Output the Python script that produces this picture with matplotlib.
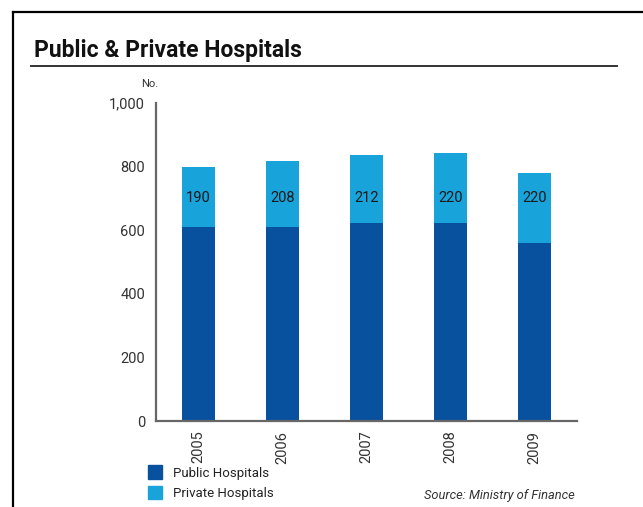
import matplotlib
matplotlib.use("Agg")
import matplotlib.pyplot as plt
from matplotlib.patches import Rectangle
from matplotlib.ticker import FuncFormatter

years = ["2005", "2006", "2007", "2008", "2009"]
public = [610, 610, 624, 624, 560]
private = [190, 208, 212, 220, 220]
label_y = 700

dark_blue = "#07519f"
light_blue = "#18a4db"

plt.rcParams["font.family"] = ["Roboto", "DejaVu Sans"]

fig = plt.figure(figsize=(6.43, 5.07), dpi=100)
ax = fig.add_axes([0.2426, 0.1696, 0.6547, 0.6272])

x = range(len(years))
ax.bar(x, public, width=0.39, color=dark_blue, label="Public Hospitals")
ax.bar(x, private, width=0.39, bottom=public, color=light_blue, label="Private Hospitals")
for i, v in enumerate(private):
    ax.text(i, label_y, str(v), ha="center", va="center", fontsize=10.5, color="#1a1a1a")

ax.set_xlim(-0.5, 4.5)
ax.set_ylim(0, 1000)
ax.set_yticks(range(0, 1001, 200))
ax.yaxis.set_major_formatter(FuncFormatter(lambda v, p: f"{int(v):,}"))
ax.set_xticks(list(x))
ax.set_xticklabels(years, rotation=90)
ax.tick_params(axis="both", length=0, labelsize=10.5, labelcolor="#333333")
ax.tick_params(axis="y", pad=8)
ax.tick_params(axis="x", pad=7)
for s in ["top", "right"]:
    ax.spines[s].set_visible(False)
for s in ["left", "bottom"]:
    ax.spines[s].set_color("#666666")
    ax.spines[s].set_linewidth(1.6)

ax.text(158 / 643, 1 - 84 / 507, "No.", transform=fig.transFigure, ha="right", va="center",
        fontsize=8, color="#333333")

# frame and title rule
fig.add_artist(plt.Line2D([12.5 / 643, 12.5 / 643], [0, 1 - 12 / 507], color="black", lw=1.6))
fig.add_artist(plt.Line2D([12.5 / 643, 1], [1 - 12 / 507, 1 - 12 / 507], color="black", lw=1.6))
fig.add_artist(plt.Line2D([31 / 643, 617 / 643], [1 - 66 / 507, 1 - 66 / 507], color="#333333", lw=1.4))
fig.text(34 / 643, 1 - 57 / 507, "Public & Private Hospitals", fontsize=16.5,
         fontweight="bold", ha="left", va="baseline", color="#111111")

# legend
fig.add_artist(Rectangle((148 / 643, 1 - 479 / 507), 14 / 643, 14 / 507,
                         transform=fig.transFigure, color=dark_blue))
fig.add_artist(Rectangle((148 / 643, 1 - 499 / 507), 14 / 643, 13 / 507,
                         transform=fig.transFigure, color=light_blue))
fig.text(173 / 643, 1 - 473 / 507, "Public Hospitals", fontsize=9.5, va="center", color="#222222")
fig.text(173 / 643, 1 - 493 / 507, "Private Hospitals", fontsize=9.5, va="center", color="#222222")
fig.text(575 / 643, 1 - 495 / 507, "Source: Ministry of Finance", fontsize=9.3,
         style="italic", ha="right", va="center", color="#333333")

fig.savefig("out.png", dpi=100)
